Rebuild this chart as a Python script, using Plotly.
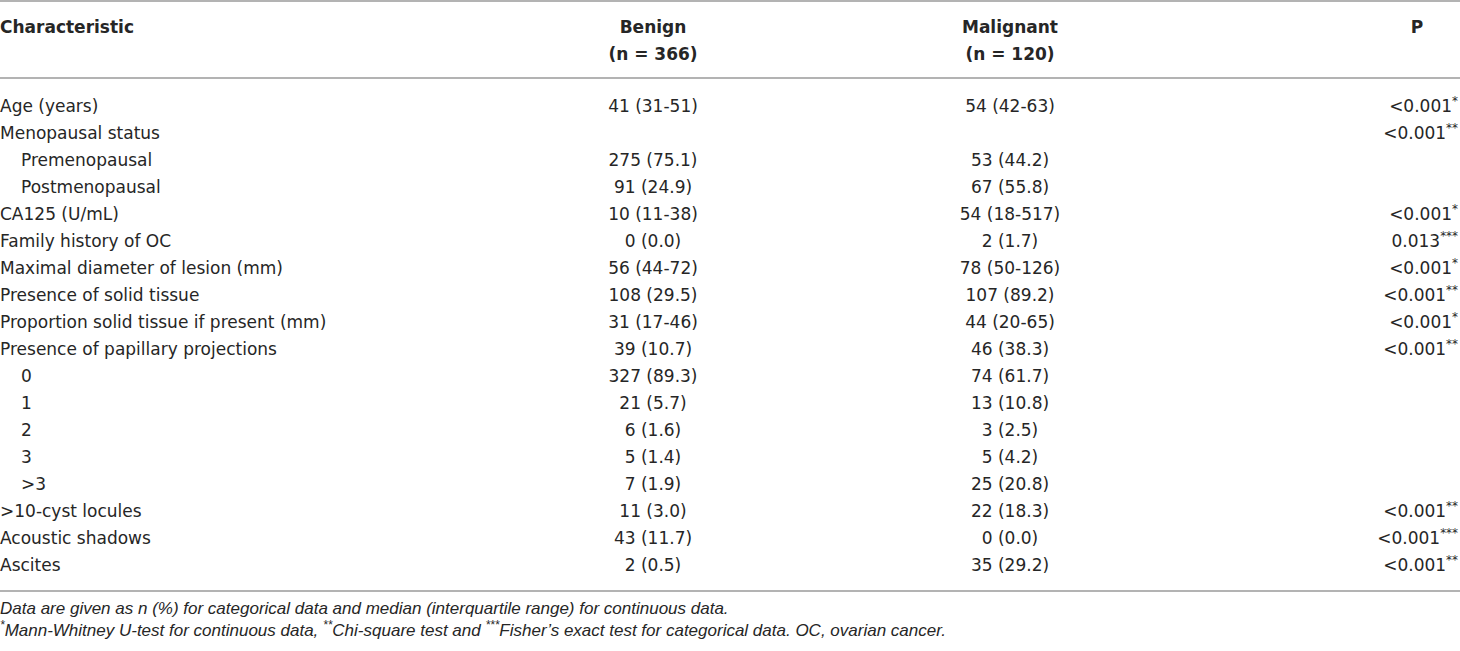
import plotly.graph_objects as go

# ── table content ─────────────────────────────────────────────────────
characteristics = [
    "Age (years)", "Menopausal status", "Premenopausal", "Postmenopausal",
    "CA125 (U/mL)", "Family history of OC", "Maximal diameter of lesion (mm)",
    "Presence of solid tissue", "Proportion solid tissue if present (mm)",
    "Presence of papillary projections", "0", "1", "2", "3", "&gt;3",
    "&gt;10-cyst locules", "Acoustic shadows", "Ascites",
]
indented = [0, 0, 1, 1, 0, 0, 0, 0, 0, 0, 1, 1, 1, 1, 1, 0, 0, 0]
benign = [
    "41 (31-51)", "", "275 (75.1)", "91 (24.9)", "10 (11-38)", "0 (0.0)",
    "56 (44-72)", "108 (29.5)", "31 (17-46)", "39 (10.7)", "327 (89.3)",
    "21 (5.7)", "6 (1.6)", "5 (1.4)", "7 (1.9)", "11 (3.0)", "43 (11.7)",
    "2 (0.5)",
]
malignant = [
    "54 (42-63)", "", "53 (44.2)", "67 (55.8)", "54 (18-517)", "2 (1.7)",
    "78 (50-126)", "107 (89.2)", "44 (20-65)", "46 (38.3)", "74 (61.7)",
    "13 (10.8)", "3 (2.5)", "5 (4.2)", "25 (20.8)", "22 (18.3)", "0 (0.0)",
    "35 (29.2)",
]
p_values = [
    "<0.001", "<0.001", "", "", "<0.001", "0.013", "<0.001", "<0.001",
    "<0.001", "<0.001", "", "", "", "", "", "<0.001", "<0.001", "<0.001",
]
p_marks = ["*", "**", "", "", "*", "***", "*", "**", "*", "**",
           "", "", "", "", "", "**", "***", "**"]

headers = ["Characteristic", "Benign", "Malignant", "P"]
group_sizes = ["", "(n = 366)", "(n = 120)", ""]

footnotes = [
    "Data are given as n (%) for categorical data and median (interquartile range) for continuous data.",
    "<sup>*</sup>Mann-Whitney U-test for continuous data, <sup>**</sup>Chi-square test and "
    "<sup>***</sup>Fisher\u2019s exact test for categorical data. OC, ovarian cancer.",
]

# ── geometry ──────────────────────────────────────────────────────────
W, H = 1460, 651
ROW0_PX, ROW_PX = 108, 27          # pixel centre of first row, row pitch
COL_X = {"label": 0, "benign": 653, "malignant": 1010, "p": 1458, "p_head": 1417}
INDENT = 21
SHIFT = 2                          # text sits slightly high in plotly


def px_to_row(py):
    return (py - ROW0_PX) / ROW_PX


TXT = "#262626"
BODY = dict(family="DejaVu Sans", size=17, color=TXT)
RULE = "#9a9a9a"

rows = list(range(len(characteristics)))

fig = go.Figure()


def add_text(xs, ys, texts, pos, font=BODY):
    keep = [(x, y, t) for x, y, t in zip(xs, ys, texts) if t]
    fig.add_trace(go.Scatter(
        x=[k[0] for k in keep], y=[k[1] for k in keep],
        mode="text", text=[k[2] for k in keep], textposition=pos,
        textfont=font, hoverinfo="skip", cliponaxis=False,
    ))


# characteristic column
add_text([COL_X["label"] + INDENT * f for f in indented], rows,
         characteristics, "middle right")
# benign / malignant columns
add_text([COL_X["benign"]] * len(rows), rows, benign, "middle center")
add_text([COL_X["malignant"]] * len(rows), rows, malignant, "middle center")
# p column (right aligned)
p_text = [v.replace("<", "&lt;") + (f"<sup>{m}</sup>" if m else "")
          for v, m in zip(p_values, p_marks)]
add_text([COL_X["p"]] * len(rows), rows, p_text, "middle left")

# header
head_y = px_to_row(27 + SHIFT)
sub_y = px_to_row(54 + SHIFT)
add_text([COL_X["label"]], [head_y], [f"<b>{headers[0]}</b>"], "middle right")
add_text([COL_X["benign"], COL_X["malignant"], COL_X["p_head"]], [head_y] * 3,
         [f"<b>{h}</b>" for h in headers[1:]], "middle center")
add_text([COL_X["benign"], COL_X["malignant"]], [sub_y] * 2,
         [f"<b>{g}</b>" for g in group_sizes[1:3]], "middle center")

# footnotes
add_text([0, 0], [px_to_row(608 + SHIFT), px_to_row(630 + SHIFT)],
         [f"<i>{t}</i>" for t in footnotes], "middle right",
         font=dict(family="Liberation Sans", size=17, color=TXT))

# horizontal rules
for py in (1, 78, 591):
    fig.add_shape(type="line", x0=0, x1=W, y0=px_to_row(py), y1=px_to_row(py),
                  xref="x", yref="y", line=dict(color=RULE, width=1.5))

fig.update_xaxes(range=[0, W], visible=False, fixedrange=True)
fig.update_yaxes(range=[px_to_row(H), px_to_row(0)], visible=False, fixedrange=True)
fig.update_layout(
    width=W, height=H,
    margin=dict(l=0, r=0, t=0, b=0),
    paper_bgcolor="white", plot_bgcolor="white",
    showlegend=False,
)

fig.write_html("out.html", config={"displayModeBar": False},
               post_script="document.body.style.margin='0';")
